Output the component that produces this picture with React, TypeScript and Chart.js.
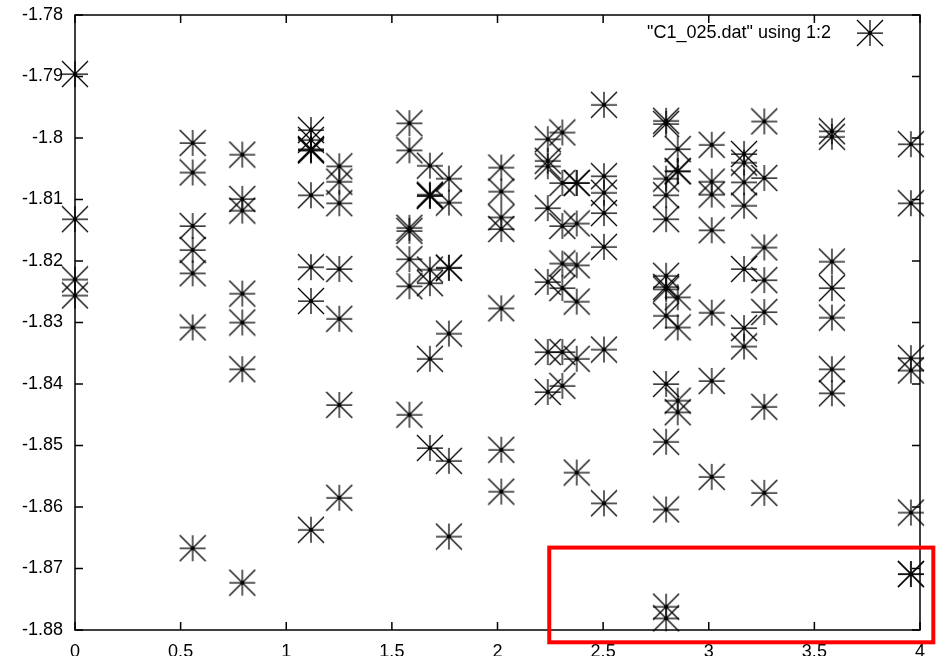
import { useEffect, useRef } from "react";
import { Chart, registerables } from "chart.js";

Chart.register(...registerables);

const seriesLabel = '"C1_025.dat" using 1:2';

// x value of each column of points
const xPositions = [
  0, 0.557, 0.792, 1.117, 1.251, 1.583, 1.68, 1.77, 2.018, 2.238,
  2.307, 2.375, 2.504, 2.798, 2.853, 3.014, 3.167, 3.263, 3.583, 3.957,
];

// y values of the points in each column (same order as xPositions)
const yByColumn: number[][] = [
  [-1.7896, -1.8132, -1.823, -1.8256],
  [-1.8008, -1.8056, -1.8143, -1.8182, -1.822, -1.8308, -1.8667],
  [-1.8027, -1.8099, -1.8118, -1.8253, -1.83, -1.8376, -1.8723],
  [-1.7987, -1.8003, -1.8018, -1.802, -1.802, -1.8093, -1.821, -1.8265, -1.8637],
  [-1.8046, -1.8071, -1.8106, -1.8213, -1.8294, -1.8434, -1.8585],
  [-1.7976, -1.802, -1.8146, -1.8151, -1.8197, -1.8241, -1.845],
  [-1.8045, -1.8092, -1.8094, -1.8094, -1.8214, -1.8236, -1.8359, -1.8504],
  [-1.8066, -1.8105, -1.8211, -1.8211, -1.8318, -1.8525, -1.8648],
  [-1.8048, -1.8087, -1.8129, -1.8148, -1.8277, -1.8507, -1.8575],
  [-1.8002, -1.8037, -1.8046, -1.8114, -1.8234, -1.8348, -1.8413],
  [-1.7991, -1.8073, -1.8143, -1.8204, -1.8244, -1.8348, -1.8403],
  [-1.8073, -1.8073, -1.8139, -1.8207, -1.8266, -1.8359, -1.8544],
  [-1.7946, -1.8062, -1.8089, -1.8122, -1.8177, -1.8344, -1.8594],
  [-1.7972, -1.7977, -1.8066, -1.8093, -1.8132, -1.8224, -1.8242, -1.8246, -1.8289, -1.84, -1.8494, -1.8604, -1.8762, -1.8781],
  [-1.8018, -1.8054, -1.8054, -1.8259, -1.8308, -1.8427, -1.8446],
  [-1.8011, -1.8071, -1.8092, -1.815, -1.8284, -1.8395, -1.8551],
  [-1.8026, -1.804, -1.8072, -1.811, -1.8213, -1.8309, -1.8339],
  [-1.7973, -1.8065, -1.8178, -1.8231, -1.8283, -1.8437, -1.8577],
  [-1.7989, -1.7998, -1.8201, -1.8244, -1.8292, -1.8376, -1.8415],
  [-1.801, -1.8106, -1.8358, -1.8378, -1.8609, -1.8709, -1.8709],
];

const xTickValues = [0, 0.5, 1, 1.5, 2, 2.5, 3, 3.5, 4];
const yTickValues = [-1.88, -1.87, -1.86, -1.85, -1.84, -1.83, -1.82, -1.81, -1.8, -1.79, -1.78];

// red highlight box, data coordinates
const highlightX = [2.245, 4.063];
const highlightY = [-1.8666, -1.882];

const FONT = '"Liberation Sans", Arial, Helvetica, sans-serif';

function makeStar(): HTMLCanvasElement {
  const c = document.createElement("canvas");
  c.width = 28;
  c.height = 28;
  const g = c.getContext("2d")!;
  const m = 14;
  const r = 13;
  g.strokeStyle = "#000";
  g.lineWidth = 1.25;
  g.beginPath();
  g.moveTo(m - r, m);
  g.lineTo(m + r, m);
  g.moveTo(m, m - r);
  g.lineTo(m, m + r);
  g.moveTo(m - r, m - r);
  g.lineTo(m + r, m + r);
  g.moveTo(m - r, m + r);
  g.lineTo(m + r, m - r);
  g.stroke();
  g.fillStyle = "#000";
  g.fillRect(m - 1.5, m - 1.5, 3, 3);
  return c;
}

export default function App() {
  const ref = useRef<HTMLCanvasElement | null>(null);

  useEffect(() => {
    if (!ref.current) return;
    const star = makeStar();
    const points: { x: number; y: number }[] = [];
    xPositions.forEach((x, i) => {
      yByColumn[i].forEach((y) => points.push({ x, y }));
    });

    const framePlugin = {
      id: "gnuplotFrame",
      beforeDatasetsDraw(chart: any) {
        const { ctx, chartArea: a, scales } = chart;
        ctx.save();
        ctx.strokeStyle = "#000";
        ctx.lineWidth = 1.5;
        ctx.strokeRect(a.left, a.top, a.right - a.left, a.bottom - a.top);
        const t = 8;
        ctx.beginPath();
        for (const v of xTickValues) {
          const px = scales.x.getPixelForValue(v);
          ctx.moveTo(px, a.bottom);
          ctx.lineTo(px, a.bottom - t);
          ctx.moveTo(px, a.top);
          ctx.lineTo(px, a.top + t);
        }
        for (const v of yTickValues) {
          const py = scales.y.getPixelForValue(v);
          ctx.moveTo(a.left, py);
          ctx.lineTo(a.left + t, py);
          ctx.moveTo(a.right, py);
          ctx.lineTo(a.right - t, py);
        }
        ctx.stroke();
        // legend
        ctx.font = `18px ${FONT}`;
        ctx.fillStyle = "#000";
        ctx.textAlign = "right";
        ctx.textBaseline = "middle";
        const ly = a.top + 18;
        ctx.fillText(chart.data.datasets[0].label, a.right - 89, ly);
        ctx.drawImage(star, a.right - 50 - 14, ly - 14);
        ctx.restore();
      },
      afterDraw(chart: any) {
        const { ctx, scales } = chart;
        const x0 = scales.x.getPixelForValue(highlightX[0]);
        const x1 = scales.x.getPixelForValue(highlightX[1]);
        const y0 = scales.y.getPixelForValue(highlightY[0]);
        const y1 = scales.y.getPixelForValue(highlightY[1]);
        ctx.save();
        ctx.strokeStyle = "#ff0000";
        ctx.lineWidth = 4;
        ctx.strokeRect(x0, y0, x1 - x0, y1 - y0);
        ctx.restore();
      },
    };

    const chart = new Chart(ref.current, {
      type: "scatter",
      data: {
        datasets: [
          {
            label: seriesLabel,
            data: points,
            pointStyle: star as any,
            pointRadius: 13,
            showLine: false,
            clip: false as any,
          },
        ],
      },
      options: {
        animation: false,
        responsive: false,
        events: [],
        layout: { padding: { top: 15, right: 22, left: 0, bottom: 0 } },
        plugins: { legend: { display: false }, tooltip: { enabled: false } },
        scales: {
          x: {
            type: "linear",
            min: 0,
            max: 4,
            afterBuildTicks: (s: any) => {
              s.ticks = xTickValues.map((v) => ({ value: v }));
            },
            afterFit: (s: any) => {
              s.height = 26;
              s.paddingLeft = 0;
              s.paddingRight = 0;
            },
            ticks: {
              color: "#000",
              font: { family: FONT, size: 18 },
              padding: 11,
              maxRotation: 0,
              autoSkip: false,
              callback: (v: any) => String(v),
            },
            grid: { display: false, drawTicks: false },
            border: { display: false },
          },
          y: {
            type: "linear",
            min: -1.88,
            max: -1.78,
            afterBuildTicks: (s: any) => {
              s.ticks = yTickValues.map((v) => ({ value: v }));
            },
            afterFit: (s: any) => {
              s.width = 75;
              s.paddingTop = 0;
              s.paddingBottom = 0;
            },
            ticks: {
              color: "#000",
              font: { family: FONT, size: 18 },
              padding: 12,
              autoSkip: false,
              callback: (v: any) => String(v),
            },
            grid: { display: false, drawTicks: false },
            border: { display: false },
          },
        },
      },
      plugins: [framePlugin],
    });
    return () => chart.destroy();
  }, []);

  return (
    <div style={{ position: "absolute", left: 0, top: 0, width: 942, height: 656, background: "#fff", overflow: "hidden" }}>
      <canvas ref={ref} width={942} height={656} style={{ width: 942, height: 656, display: "block" }} />
    </div>
  );
}
